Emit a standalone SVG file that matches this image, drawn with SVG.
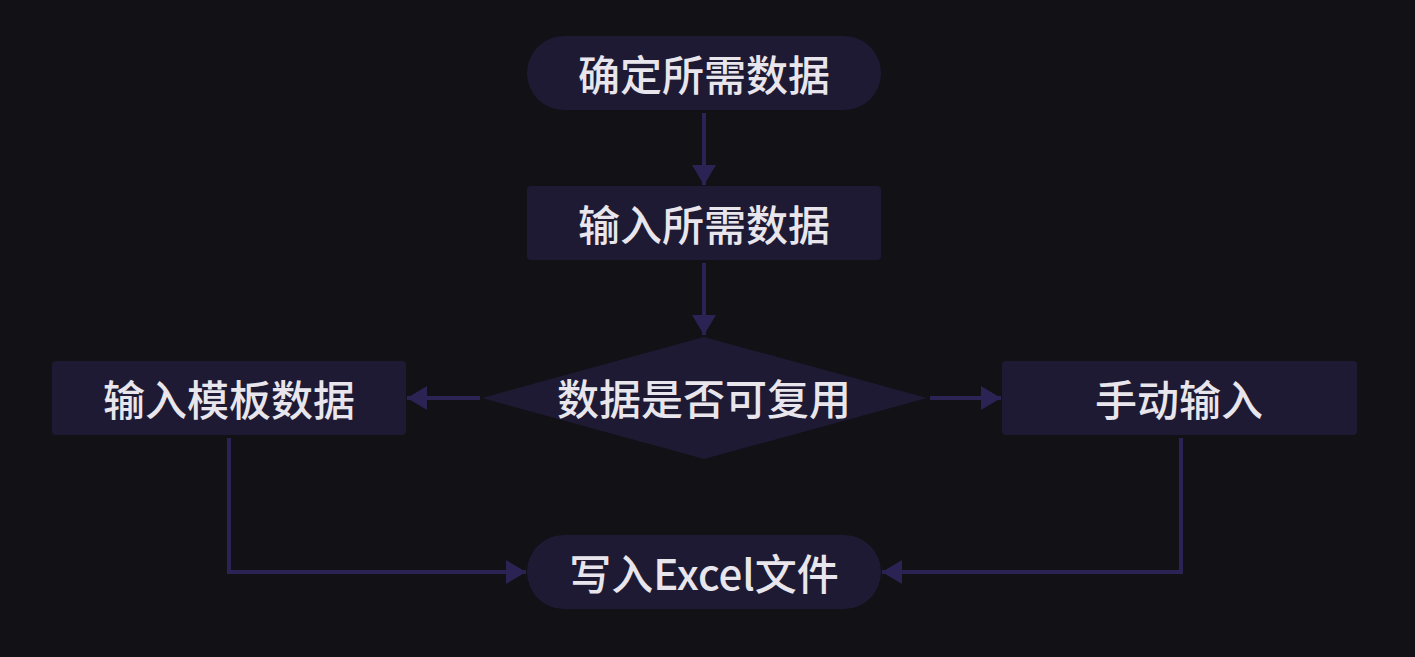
<svg xmlns="http://www.w3.org/2000/svg" width="1415" height="657" viewBox="0 0 1415 657">
<defs>
<style>
.node{fill:#1e1a34;}
.lbl{fill:#e8e6ec;font-family:"Noto Sans CJK SC","Noto Sans",sans-serif;font-size:42px;font-weight:500;text-anchor:middle;dominant-baseline:central;}
.edge{fill:none;stroke:#2b2353;stroke-width:4;}
</style>
<marker id="ah" viewBox="0 0 20 24" refX="20" refY="12" markerWidth="20" markerHeight="24" markerUnits="userSpaceOnUse" orient="auto">
<path d="M0,0 L20,12 L0,24 Z" fill="#2b2353"/>
</marker>
</defs>
<rect width="1415" height="657" fill="#121116"/>
<g id="connectors">
<path class="edge" d="M704,113 V185" marker-end="url(#ah)"/>
<path class="edge" d="M704,263 V335" marker-end="url(#ah)"/>
<path class="edge" d="M480,398 H407" marker-end="url(#ah)"/>
<path class="edge" d="M930,398 H1001" marker-end="url(#ah)"/>
<path class="edge" d="M229,438 V572 H526"/>
<path class="edge" d="M1181,438 V572 H882"/>
<path class="edge" d="M500,572 H526" marker-end="url(#ah)"/>
<path class="edge" d="M900,572 H882" marker-end="url(#ah)"/>
</g>
<g id="n1"><rect class="node" x="527" y="36" width="354" height="74" rx="37"/><text class="lbl" x="704" y="72">确定所需数据</text></g>
<g id="n2"><rect class="node" x="527" y="186" width="354" height="74" rx="4"/><text class="lbl" x="704" y="222">输入所需数据</text></g>
<g id="n3"><path class="node" d="M704,337 L927,398 L704,459 L482,398 Z"/><text class="lbl" x="704" y="396">数据是否可复用</text></g>
<g id="n4"><rect class="node" x="52" y="361" width="354" height="74" rx="4"/><text class="lbl" x="229" y="397">输入模板数据</text></g>
<g id="n5"><rect class="node" x="1002" y="361" width="355" height="74" rx="4"/><text class="lbl" x="1179" y="397">手动输入</text></g>
<g id="n6"><rect class="node" x="527" y="535" width="354" height="74" rx="37"/><text class="lbl" x="704" y="571">写入Excel文件</text></g>
</svg>
